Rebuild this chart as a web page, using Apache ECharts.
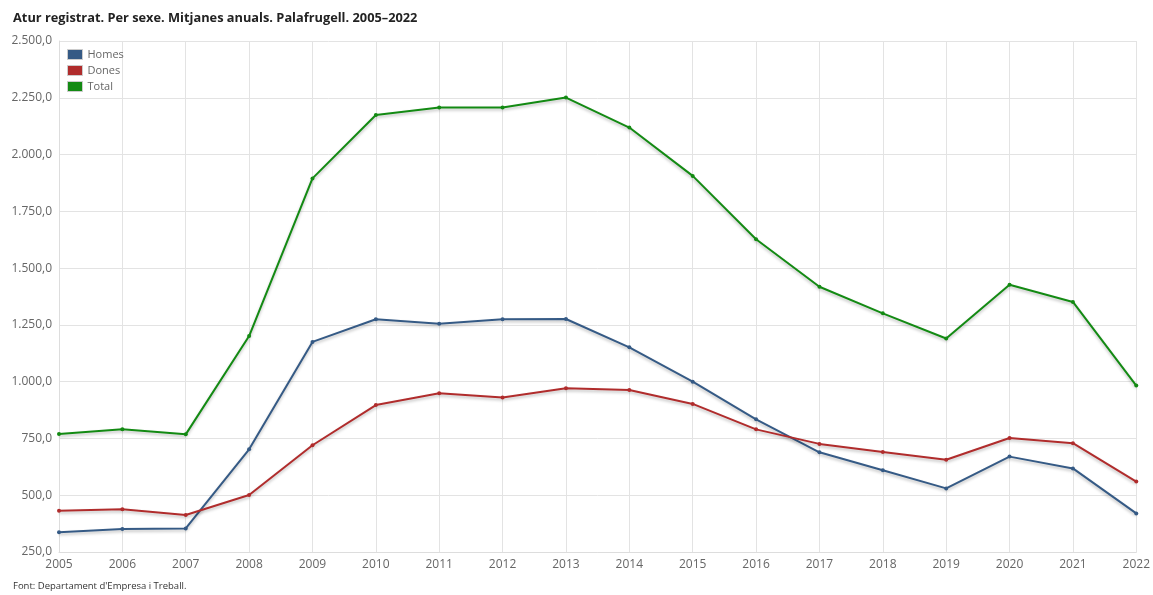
<!DOCTYPE html>
<html>
<head>
<meta charset="utf-8">
<script src="https://cdn.jsdelivr.net/npm/echarts@6/dist/echarts.min.js"></script>
<style>
html,body{margin:0;padding:0;background:#fff;}
#c{width:1153px;height:595px;}
</style>
</head>
<body>
<div id="c"></div>
<script>
const years = ['2005','2006','2007','2008','2009','2010','2011','2012','2013','2014','2015','2016','2017','2018','2019','2020','2021','2022'];
const homes = [337, 351, 354, 702, 1175, 1275, 1255, 1275, 1276, 1151, 1000, 834, 689, 610, 530, 670, 618, 420];
const dones = [432, 438, 413, 501, 720, 897, 949, 930, 971, 963, 902, 790, 726, 690, 656, 752, 729, 560];
const total = [770, 790, 768, 1201, 1895, 2174, 2207, 2207, 2251, 2119, 1906, 1627, 1418, 1301, 1190, 1427, 1351, 983];
const seriesNames = ['Homes', 'Dones', 'Total'];
const titleText = 'Atur registrat. Per sexe. Mitjanes anuals. Palafrugell. 2005–2022';
const sourceText = "Font: Departament d'Empresa i Treball.";

const colors = ['#355a85', '#b02c2c', '#138a13'];
const fmt = v => {
  const parts = v.toFixed(1).split('.');
  parts[0] = parts[0].replace(/\B(?=(\d{3})+(?!\d))/g, '.');
  return parts[0] + ',' + parts[1];
};

const chart = echarts.init(document.getElementById('c'), null, {renderer: 'canvas'});
const mk = (name, data, color) => ({
  name, type: 'line', data,
  symbol: 'circle', symbolSize: 4,
  itemStyle: {color},
  lineStyle: {color, width: 2, shadowColor: 'rgba(0,0,0,0.25)', shadowBlur: 3, shadowOffsetY: 2},
  emphasis: {disabled: true}
});
chart.setOption({
  animation: false,
  textStyle: {fontFamily: 'Open Sans'},
  title: [{
    text: titleText, left: 8, top: 7,
    textStyle: {fontFamily: 'Open Sans', fontWeight: 'bold', fontSize: 12.8, color: '#222'}
  }, {
    text: sourceText, left: 8, top: 576,
    textStyle: {fontFamily: 'Open Sans', fontWeight: 'normal', fontSize: 9.5, color: '#333'}
  }],
  legend: {
    data: seriesNames, orient: 'vertical', left: 62, top: 44,
    itemWidth: 15, itemHeight: 10, itemGap: 5, icon: 'rect', itemTextGap: 5,
    textStyle: {fontFamily: 'Open Sans', fontSize: 11, color: '#666'},
    itemStyle: {borderColor: '#ccc', borderWidth: 1}
  },
  grid: {left: 59, right: 16, top: 41, bottom: 43, containLabel: false},
  xAxis: {
    type: 'category', data: years, boundaryGap: false,
    axisLine: {show: true, lineStyle: {color: '#ddd'}},
    axisTick: {show: false},
    splitLine: {show: true, lineStyle: {color: '#e3e3e3'}},
    axisLabel: {fontFamily: 'Open Sans', fontSize: 12, color: '#666', margin: 7, interval: 0}
  },
  yAxis: {
    type: 'value', min: 250, max: 2500, interval: 250,
    axisLine: {show: true, lineStyle: {color: '#ddd'}},
    axisTick: {show: false},
    splitLine: {show: true, lineStyle: {color: '#e3e3e3'}},
    axisLabel: {fontFamily: 'Open Sans', fontSize: 12, color: '#666', margin: 7, formatter: fmt}
  },
  series: [mk('Homes', homes, colors[0]), mk('Dones', dones, colors[1]), mk('Total', total, colors[2])]
});
</script>
</body>
</html>
